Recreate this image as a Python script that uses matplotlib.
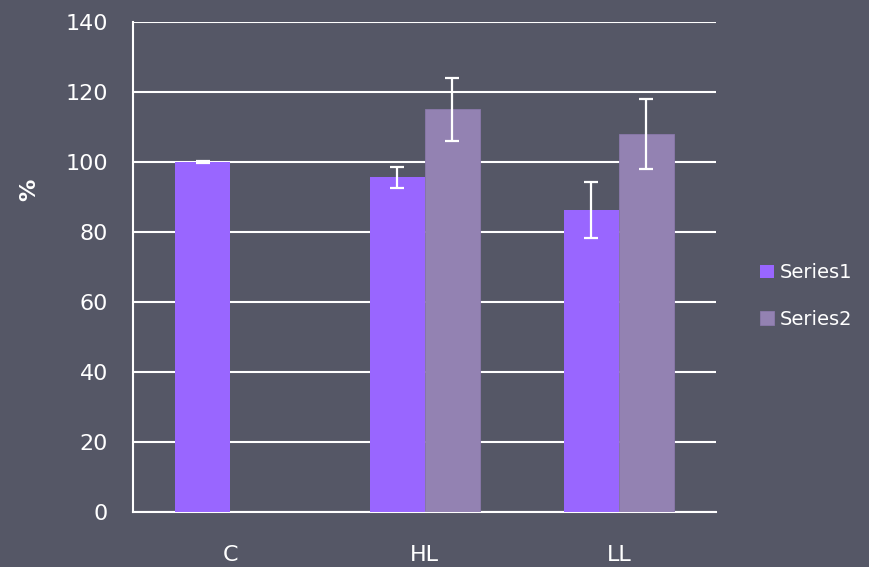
import numpy as np
import matplotlib
matplotlib.use('Agg')
import matplotlib.pyplot as plt

categories = ['C', 'HL', 'LL']
series1 = [100, 95.7, 86.4]
series2 = [0, 115.1, 108.0]
err1 = [0.3, 3.0, 8.0]
err2 = [0, 9.0, 10.0]

bg = '#555766'
c1 = '#9966ff'
c2 = '#9382b2'

fig = plt.figure(figsize=(8.69, 5.67), dpi=100, facecolor=bg)
ax = fig.add_axes([0.153, 0.097, 0.671, 0.864], facecolor=bg)

x = np.arange(len(categories))
w = 0.283
ekw = dict(ecolor='white', elinewidth=1.6, capsize=5, capthick=1.6, zorder=4)
ax.bar(x - w / 2, series1, w, color=c1, yerr=err1, error_kw=ekw, label='Series1', zorder=3)
ax.bar(x + w / 2, series2, w, color=c2, edgecolor='#8a78aa', linewidth=0.6,
       yerr=[e if v else np.nan for v, e in zip(series2, err2)], error_kw=ekw,
       label='Series2', zorder=3)

ax.set_xlim(-0.5, 2.5)
ax.set_ylim(0, 140)
ax.set_yticks(range(0, 141, 20))
ax.set_xticks(x)
ax.set_xticklabels(categories)
ax.tick_params(length=0, colors='white', labelsize=16)
ax.tick_params(axis='y', pad=18)
ax.tick_params(axis='x', pad=24)
ax.grid(axis='y', color='white', linewidth=1.5, zorder=0)
for s in ['top', 'right']:
    ax.spines[s].set_visible(False)
for s in ['left', 'bottom']:
    ax.spines[s].set_color('white')
    ax.spines[s].set_linewidth(1.5)
ax.set_ylabel('%', color='white', fontsize=16, fontweight='bold')
ax.yaxis.set_label_coords(-0.16, 0.657)

fig.legend(loc='center left', bbox_to_anchor=(0.875, 0.478), frameon=False,
           fontsize=14, labelcolor='white', handlelength=0.7, handleheight=0.7,
           handletextpad=0.3, labelspacing=1.4, borderpad=0, borderaxespad=0)

fig.savefig('out.png', dpi=100, facecolor=bg)
